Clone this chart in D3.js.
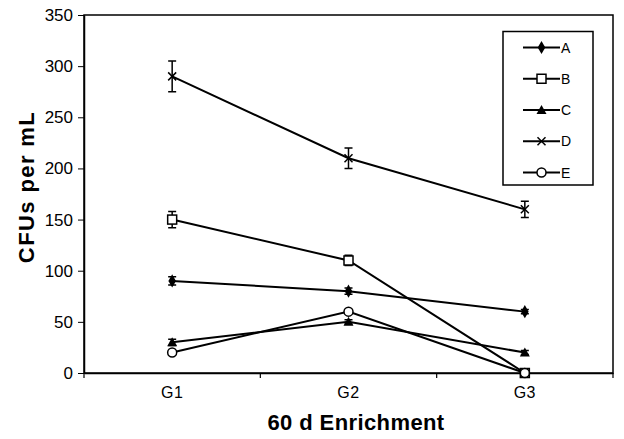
<!DOCTYPE html>
<html>
<head>
<meta charset="utf-8">
<script src="https://cdn.jsdelivr.net/npm/d3@7"></script>
<style>
  body { margin: 0; background: #fff; }
  text { font-family: Arial, "Liberation Sans", sans-serif; fill: #000; }
</style>
</head>
<body>
<div id="chart"></div>
<script>
const groups = ['G1', 'G2', 'G3']
const seriesNames = ['A', 'B', 'C', 'D', 'E']
const valuesA = [90, 80, 60]
const valuesB = [150, 110, 0]
const valuesC = [30, 50, 20]
const valuesD = [290, 210, 160]
const valuesE = [20, 60, 0]
const errorsA = [4, 3, 2]
const errorsB = [8, 5, 0]
const errorsC = [3, 2, 2]
const errorsD = [15, 10, 8]
const errorsE = [0, 0, 0]
const yTicks = [0, 50, 100, 150, 200, 250, 300, 350]

const series = [
  { name: 'A', values: valuesA, errors: errorsA, marker: 'diamond' },
  { name: 'B', values: valuesB, errors: errorsB, marker: 'square' },
  { name: 'C', values: valuesC, errors: errorsC, marker: 'triangle' },
  { name: 'D', values: valuesD, errors: errorsD, marker: 'cross' },
  { name: 'E', values: valuesE, errors: errorsE, marker: 'circle' }
]

const width = 624, height = 439
const margin = { top: 15, right: 11, bottom: 66, left: 84 }
const innerW = width - margin.left - margin.right
const innerH = height - margin.top - margin.bottom

const svg = d3.select('#chart').append('svg')
    .attr('width', width)
    .attr('height', height)

const canvas = svg.append('g')
    .attr('transform', 'translate(' + margin.left + ',' + margin.top + ')')

const x = d3.scaleBand().domain(groups).range([0, innerW])
const y = d3.scaleLinear().domain([0, 350]).range([innerH, 0])
const cx = d => x(d) + x.bandwidth() / 2

// plot frame
canvas.append('rect')
    .attr('width', innerW)
    .attr('height', innerH)
    .attr('fill', 'none')
    .attr('stroke', '#000')
    .attr('stroke-width', 1.5)

const yAxis = canvas.append('g')
    .call(d3.axisLeft(y).tickValues(yTicks).tickSize(6).tickSizeOuter(0))
yAxis.select('.domain').attr('stroke-width', 1.5)
yAxis.selectAll('text').attr('font-size', 17).attr('dx', '-2')

// x ticks sit on the band boundaries
const xAxis = canvas.append('g')
    .attr('transform', 'translate(0,' + innerH + ')')
    .call(d3.axisBottom(x).tickSize(0).tickPadding(14))
xAxis.select('.domain').attr('stroke-width', 1.5)
xAxis.selectAll('text').attr('font-size', 16).attr('letter-spacing', 0.5)
xAxis.selectAll('line.bound')
    .data([0, 1, 2, 3])
    .enter().append('line')
    .attr('class', 'bound')
    .attr('x1', i => i * x.step())
    .attr('x2', i => i * x.step())
    .attr('y1', 0)
    .attr('y2', 5)
    .attr('stroke', '#000')
    .attr('stroke-width', 1.2)

svg.append('text')
    .attr('transform', 'translate(356,430)')
    .attr('text-anchor', 'middle')
    .attr('font-size', 22)
    .attr('font-weight', 'bold')
    .attr('letter-spacing', 0.4)
    .text('60 d Enrichment')

svg.append('text')
    .attr('transform', 'translate(34,187) rotate(-90)')
    .attr('text-anchor', 'middle')
    .attr('font-size', 22)
    .attr('font-weight', 'bold')
    .attr('letter-spacing', 1.4)
    .text('CFUs per mL')

function drawMarker(g, type) {
  if (type === 'diamond') {
    g.append('path').attr('d', d3.symbol(d3.symbolDiamond, 50)()).attr('fill', '#000')
  } else if (type === 'square') {
    g.append('rect').attr('x', -4.5).attr('y', -4.5).attr('width', 9).attr('height', 9)
        .attr('fill', '#fff').attr('stroke', '#000').attr('stroke-width', 1.5)
  } else if (type === 'triangle') {
    g.append('path').attr('d', 'M0,-5L5,4L-5,4Z').attr('fill', '#000')
  } else if (type === 'cross') {
    g.append('path').attr('d', 'M-4,-4L4,4M-4,4L4,-4').attr('stroke', '#000').attr('stroke-width', 1.5)
  } else if (type === 'circle') {
    g.append('circle').attr('r', 4.5).attr('fill', '#fff').attr('stroke', '#000').attr('stroke-width', 1.5)
  }
}

const line = d3.line()
    .x((d, i) => cx(groups[i]))
    .y(d => y(d))

for (const s of series) {
  const g = canvas.append('g').attr('class', 'series')
  g.append('path')
      .datum(s.values)
      .attr('d', line)
      .attr('fill', 'none')
      .attr('stroke', '#000')
      .attr('stroke-width', 2)

  s.values.forEach((v, i) => {
    const e = s.errors[i]
    if (!e) return
    const px = cx(groups[i])
    g.append('path')
        .attr('d', 'M' + px + ',' + y(v - e) + 'V' + y(v + e) +
            'M' + (px - 4) + ',' + y(v - e) + 'H' + (px + 4) +
            'M' + (px - 4) + ',' + y(v + e) + 'H' + (px + 4))
        .attr('stroke', '#000')
        .attr('stroke-width', 1.5)
        .attr('fill', 'none')
  })

  s.values.forEach((v, i) => {
    const m = g.append('g').attr('transform', 'translate(' + cx(groups[i]) + ',' + y(v) + ')')
    drawMarker(m, s.marker)
  })
}

// legend
const legend = svg.append('g').attr('transform', 'translate(503,31.5)')
legend.append('rect')
    .attr('width', 90)
    .attr('height', 153.5)
    .attr('fill', '#fff')
    .attr('stroke', '#000')
    .attr('stroke-width', 1.5)

const ly = d3.scalePoint().domain(seriesNames).range([16, 141])
series.forEach(s => {
  const row = legend.append('g').attr('transform', 'translate(0,' + ly(s.name) + ')')
  row.append('line')
      .attr('x1', 20).attr('x2', 57)
      .attr('stroke', '#000').attr('stroke-width', 2)
  const m = row.append('g').attr('transform', 'translate(38.5,0)')
  drawMarker(m, s.marker)
  row.append('text')
      .attr('x', 58)
      .attr('y', 5)
      .attr('font-size', 14)
      .attr('letter-spacing', 0.5)
      .text(s.name)
})
</script>
</body>
</html>
